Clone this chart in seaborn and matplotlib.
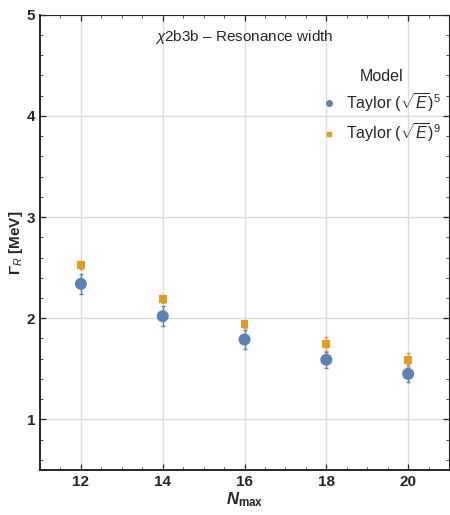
import numpy as np
import pandas as pd
import matplotlib
matplotlib.use("Agg")
import matplotlib.pyplot as plt
from matplotlib.ticker import MultipleLocator
from matplotlib.lines import Line2D
import seaborn as sns

nmax = [12, 14, 16, 18, 20]
taylor5 = [2.34, 2.02, 1.79, 1.59, 1.45]
taylor5_err = [0.10, 0.10, 0.09, 0.08, 0.085]
taylor9 = [2.53, 2.19, 1.945, 1.745, 1.59]
taylor9_err = [0.04, 0.035, 0.04, 0.065, 0.07]
models = [r"Taylor $(\sqrt{E})^5$", r"Taylor $(\sqrt{E})^9$"]
colors = ["#5E81B5", "#E19C24"]

df = pd.DataFrame({
    "N": nmax * 2,
    "G": taylor5 + taylor9,
    "err": taylor5_err + taylor9_err,
    "Model": [models[0]] * len(nmax) + [models[1]] * len(nmax),
})

sns.set_style("ticks")
plt.rcParams["font.family"] = ["Liberation Sans", "DejaVu Sans"]
plt.rcParams["mathtext.fontset"] = "custom"
plt.rcParams["mathtext.rm"] = "Liberation Sans"
plt.rcParams["mathtext.it"] = "Liberation Sans:italic"
plt.rcParams["mathtext.bf"] = "Liberation Sans:bold"
plt.rcParams["mathtext.bfit"] = "Liberation Sans:italic:bold"

fig = plt.figure(figsize=(4.5, 5.15), dpi=100)
ax = fig.add_axes([0.0889, 0.0874, 0.909, 0.884])

for m, c in zip(models, colors):
    sub = df[df["Model"] == m]
    ax.errorbar(sub["N"], sub["G"], yerr=sub["err"], fmt="none", ecolor=c,
                elinewidth=1.0, capsize=1.5, capthick=1.0, zorder=2)

sns.scatterplot(data=df, x="N", y="G", hue="Model", style="Model",
                palette=colors, markers=["o", "s"],
                size="Model", sizes={models[0]: 75, models[1]: 32},
                edgecolor="none", linewidth=0, ax=ax, legend=False, zorder=3)

ax.set_xlim(11, 21)
ax.set_ylim(0.5, 5)
ax.xaxis.set_major_locator(MultipleLocator(2))
ax.xaxis.set_minor_locator(MultipleLocator(0.5))
ax.yaxis.set_major_locator(MultipleLocator(1))
ax.yaxis.set_minor_locator(MultipleLocator(0.2))
ax.grid(True, which="major", color="#DDDDDD", linewidth=1.0, zorder=0)
ax.set_axisbelow(True)
ax.tick_params(which="both", direction="in", top=True, right=True)
ax.tick_params(which="major", length=4, width=0.9, labelsize=11)
ax.tick_params(which="minor", length=2.2, width=0.6)
for lab in ax.get_xticklabels() + ax.get_yticklabels():
    lab.set_fontweight("bold")
for s in ["left", "bottom"]:
    ax.spines[s].set_linewidth(1.4)
for s in ["top", "right"]:
    ax.spines[s].set_linewidth(0.8)

ax.set_xlabel(r"$\mathbfit{N}_{\mathbf{max}}$", fontsize=12, labelpad=1)
ax.set_ylabel(r"Γ$_{\mathit{R}}$ [MeV]", fontsize=11, fontweight="bold", labelpad=1)
ax.set_yticks([1, 2, 3, 4, 5])

ax.text(0.5, 0.95, r"$\chi$2b3b – Resonance width", transform=ax.transAxes,
        ha="center", va="center", fontsize=11)

handles = [Line2D([], [], marker="o", color=colors[0], linestyle="none", markersize=4),
           Line2D([], [], marker="s", color=colors[1], linestyle="none", markersize=3.5)]
leg = ax.legend(handles, models, title="Model", loc="upper right",
                bbox_to_anchor=(0.997, 0.895), frameon=False, fontsize=11.5,
                title_fontsize=11.5, handletextpad=0.6, labelspacing=0.45,
                handlelength=1.0, borderaxespad=0)

fig.savefig("out.png", dpi=100)
